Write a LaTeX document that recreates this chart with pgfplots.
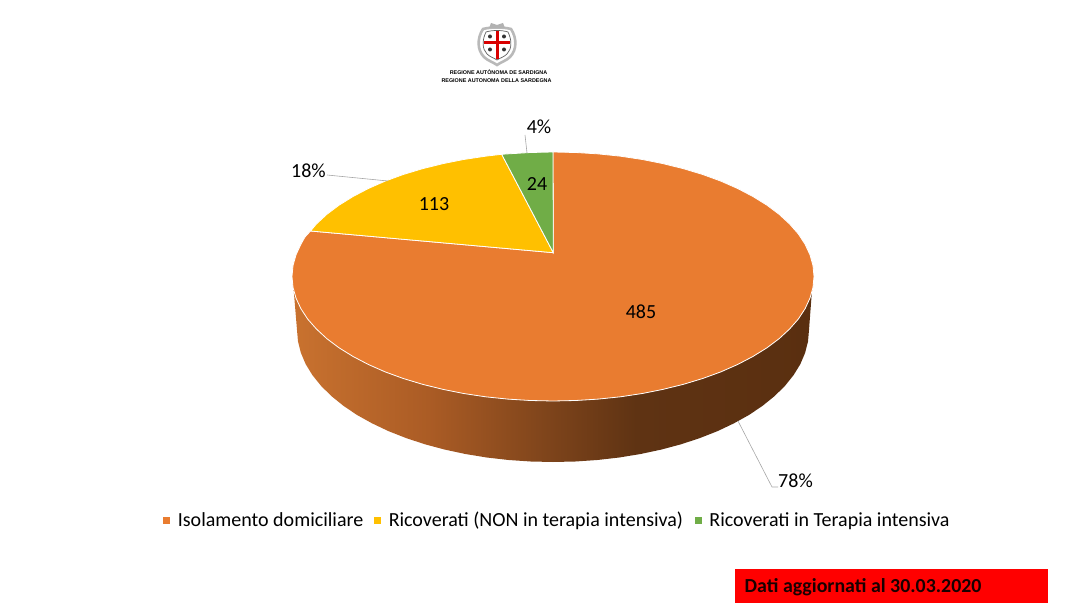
\documentclass[border=0pt]{standalone}
\usepackage{pgfplots}
\pgfplotsset{compat=1.18}
\usepackage{fontspec}
\setmainfont{Carlito}
\newfontfamily\logofont{Liberation Sans}
\definecolor{orangeS}{HTML}{E97C30}
\definecolor{yellowS}{HTML}{FFC000}
\definecolor{greenS}{HTML}{70AD47}
\definecolor{leader}{HTML}{A6A6A6}
\definecolor{c0}{HTML}{C9722F}
\definecolor{c1}{HTML}{AB5C25}
\definecolor{c2}{HTML}{7E441B}
\definecolor{c3}{HTML}{5F3313}
\definecolor{c4}{HTML}{5A2F10}
\pgfdeclarehorizontalshading{pieside}{100bp}{
  color(0bp)=(c0); color(25bp)=(c0); color(38bp)=(c1); color(49.5bp)=(c2);
  color(58bp)=(c3); color(75bp)=(c4); color(100bp)=(c4)}
\begin{document}
\begin{tikzpicture}
\begin{axis}[
  scale only axis, width=1068pt, height=609pt,
  xmin=0, xmax=1068, ymin=0, ymax=609, y dir=reverse,
  hide axis, clip=false,
  legend columns=3,
  legend cell align=left,
  legend style={draw=none, fill=none, at={(axis cs:556,522)}, anchor=center,
    font=\fontsize{20}{22}\selectfont, inner sep=0pt,
    nodes={text height=14pt, text depth=5pt, inner xsep=0pt}},
  legend image code/.code={\fill[#1] (0pt,-2pt) rectangle ++(7.6pt,7.6pt);},
]
\path (axis cs:0,0) rectangle (axis cs:1068,609);
% side of the pie
\addplot[forget plot, draw=none, shade, shading=pieside] coordinates {
 (812,290)(809,330)(808,341.5)(805.1,352.9)(800.3,364.2)(793.6,375.1)(785,385.8)(774.7,396)(762.7,405.7)(749.1,414.9)(734,423.3)(717.6,431.1)(699.8,438.1)(681,444.3)(661.2,449.6)(640.6,454)(619.3,457.5)(597.4,460)(575.3,461.5)(553,462)
 (530.7,461.5)(508.6,460)(486.7,457.5)(465.4,454)(444.8,449.6)(425,444.3)(406.2,438.1)(388.4,431.1)(372,423.3)(356.9,414.9)(343.3,405.7)(331.3,396)(321,385.8)(312.4,375.1)(305.7,364.2)(300.9,352.9)(298,341.5)(297,330)(293.5,288)
 (293,287.4)(296,298.1)(300.9,308.7)(307.7,319.1)(316.5,329.1)(327,338.8)(339.2,347.9)(353.1,356.5)(368.4,364.5)(385.2,371.9)(403.3,378.5)(422.5,384.3)(442.7,389.3)(463.7,393.5)(485.5,396.8)(507.7,399.1)(530.2,400.5)(553,401)
 (575.8,400.5)(598.3,399.1)(620.5,396.8)(642.3,393.5)(663.3,389.3)(683.5,384.3)(702.7,378.5)(720.8,371.9)(737.6,364.5)(752.9,356.5)(766.8,347.9)(779,338.8)(789.5,329.1)(798.3,319.1)(805.1,308.7)(810,298.1)(813,287.4)
} -- cycle;
% Isolamento domiciliare
\addplot[draw=white, line width=0.8pt, fill=orangeS] coordinates {
 (553.3,252.7)(553,152)(575.8,152.5)(598.3,153.9)(620.5,156.2)(642.3,159.5)(663.3,163.7)(683.5,168.7)(702.7,174.5)(720.8,181.1)(737.6,188.5)(752.9,196.5)(766.8,205.1)(779,214.2)(789.5,223.9)(798.3,233.9)(805.1,244.3)(810,254.9)(813,265.6)(814,276.5)
 (813,287.4)(810,298.1)(805.1,308.7)(798.3,319.1)(789.5,329.1)(779,338.8)(766.8,347.9)(752.9,356.5)(737.6,364.5)(720.8,371.9)(702.7,378.5)(683.5,384.3)(663.3,389.3)(642.3,393.5)(620.5,396.8)(598.3,399.1)(575.8,400.5)(553,401)
 (530.2,400.5)(507.7,399.1)(485.5,396.8)(463.7,393.5)(442.7,389.3)(422.5,384.3)(403.3,378.5)(385.2,371.9)(368.4,364.5)(353.1,356.5)(339.2,347.9)(327,338.8)(316.5,329.1)(307.7,319.1)(300.9,308.7)(296,298.1)(293,287.4)(292,276.5)(293,265.6)(296,254.9)(300.9,244.3)(305,237)(310.5,231)
} -- cycle;
\addlegendentry{\hspace*{7pt}Isolamento domiciliare\hspace*{10pt}}
% Ricoverati NON TI
\addplot[draw=white, line width=0.8pt, fill=yellowS] coordinates {
 (553.3,252.7)(310.5,231)(316.5,223.9)(327,214.2)(339.2,205.1)(353.1,196.5)(368.4,188.5)(385.2,181.1)(403.3,174.5)(422.5,168.7)(442.7,163.7)(463.7,159.5)(485.5,156.2)(501.7,154.3)
} -- cycle;
\addlegendentry{\hspace*{7pt}Ricoverati (NON in terapia intensiva)\hspace*{11pt}}
% Ricoverati TI
\addplot[draw=white, line width=0.8pt, fill=greenS] coordinates {
 (553.3,252.7)(501.7,154.3)(507.7,153.9)(530.2,152.5)(553,152)
} -- cycle;
\addlegendentry{\hspace*{7pt}Ricoverati in Terapia intensiva}
% leader lines
\addplot[forget plot, leader, line width=0.6pt] coordinates {(327,175)(388,181)};
\addplot[forget plot, leader, line width=0.6pt] coordinates {(525,135)(527,153)};
\addplot[forget plot, leader, line width=0.6pt] coordinates {(738,421)(772,487)(778,487)};
% labels
\begin{scope}[every node/.style={font=\fontsize{20}{22}\selectfont, inner sep=0pt, text=black}]
\node at (axis cs:641,312) {485};
\node at (axis cs:434,204) {113};
\node at (axis cs:537,184) {24};
\node at (axis cs:308.5,171) {18\%};
\node at (axis cs:539,127) {4\%};
\node at (axis cs:795.5,481) {78\%};
\end{scope}
% note box
\fill[red] (axis cs:735,569) rectangle (axis cs:1048,603);
\node[anchor=west, inner sep=0pt, font=\fontsize{19.9}{22}\selectfont\bfseries, text=black!90!red] at (axis cs:744.5,587) {Dati aggiornati al 30.03.2020};
% logo
\draw[gray!55, line width=2.6pt, fill=white] (axis cs:483,29) .. controls (axis cs:490,27) and (axis cs:504,27) .. (axis cs:511,29) .. controls (axis cs:517,38) and (axis cs:517,50) .. (axis cs:510,57) .. controls (axis cs:506,61) and (axis cs:501,62) .. (axis cs:497,65) .. controls (axis cs:493,62) and (axis cs:488,61) .. (axis cs:484,57) .. controls (axis cs:477,50) and (axis cs:477,38) .. (axis cs:483,29) -- cycle;
\draw[gray!75!black, line width=0.7pt] (axis cs:486,32) .. controls (axis cs:492,30) and (axis cs:502,30) .. (axis cs:508,32) .. controls (axis cs:512,40) and (axis cs:512,49) .. (axis cs:507,54) .. controls (axis cs:504,57) and (axis cs:500,58) .. (axis cs:497,60) .. controls (axis cs:494,58) and (axis cs:490,57) .. (axis cs:487,54) .. controls (axis cs:482,49) and (axis cs:482,40) .. (axis cs:486,32) -- cycle;
\fill[gray!60] (axis cs:489,28) -- (axis cs:491,23) -- (axis cs:497,25) -- (axis cs:503,23) -- (axis cs:505,28) -- cycle;
\fill[red!85!black] (axis cs:495.5,31) rectangle (axis cs:498.5,59);
\fill[red!85!black] (axis cs:484,41) rectangle (axis cs:510,44);
\fill[black!80] (axis cs:490,36.5) circle[radius=2pt];
\fill[black!80] (axis cs:504,36.5) circle[radius=2pt];
\fill[black!80] (axis cs:490,49.5) circle[radius=2pt];
\fill[black!80] (axis cs:504,49.5) circle[radius=2pt];
\node[inner sep=0pt, font=\logofont\fontsize{5.4}{6}\selectfont\bfseries] at (axis cs:498.5,72.5) {REGIONE AUTÒNOMA DE SARDIGNA};
\node[inner sep=0pt, font=\logofont\fontsize{5.4}{6}\selectfont\bfseries] at (axis cs:496.5,80.5) {REGIONE AUTONOMA DELLA SARDEGNA};
\end{axis}
\end{tikzpicture}
\end{document}
